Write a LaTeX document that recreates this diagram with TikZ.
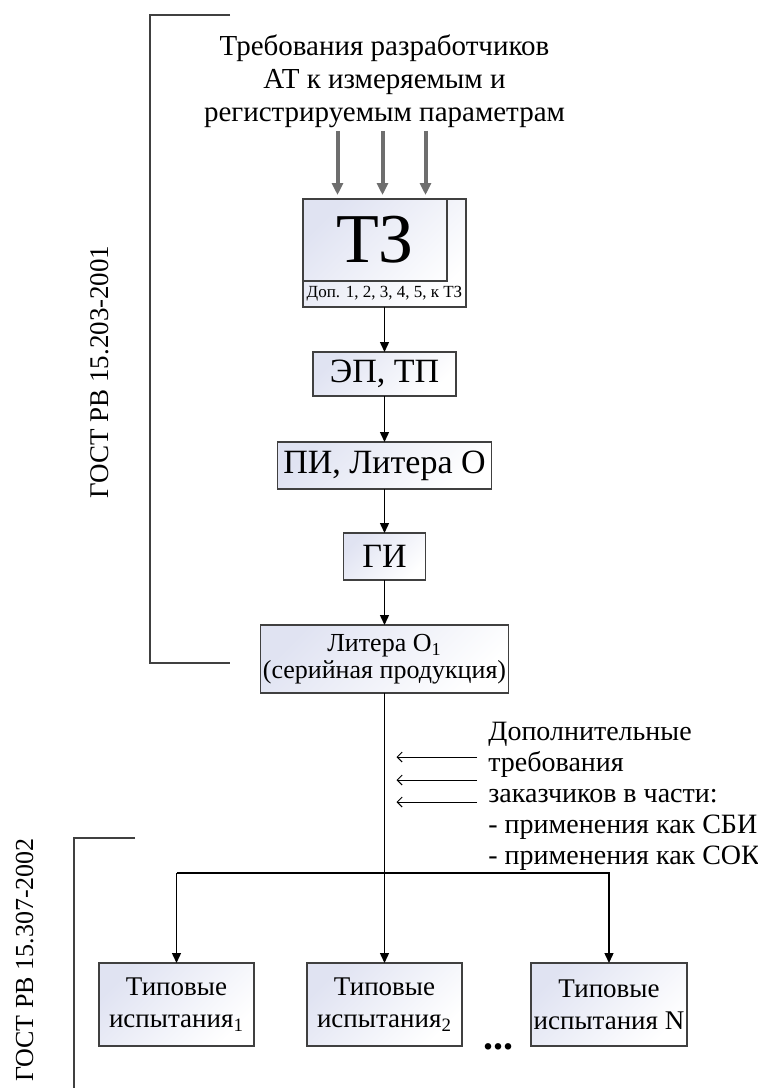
\documentclass[tikz,border=0pt]{standalone}
\usepackage{fontspec}
\setmainfont{Liberation Serif}
\usepackage{tikz}
\usetikzlibrary{arrows.meta}
\definecolor{boxtint}{RGB}{224,227,242}
\definecolor{boxline}{RGB}{64,64,64}
\definecolor{reqgray}{RGB}{110,110,110}
\tikzstyle{stage}=[draw=boxline, line width=0.7pt, inner sep=0, outer sep=0,
                   top color=boxtint, bottom color=white, shading angle=45, align=center]
\tikzstyle{bigstage}=[stage, font=\fontsize{17}{20}\selectfont]
\tikzstyle{smallstage}=[stage, font=\fontsize{13}{13.5}\selectfont]
\tikzstyle{teststage}=[stage, font=\fontsize{13.5}{16}\selectfont, minimum width=77.5pt, minimum height=41.5pt]
\tikzstyle{flow}=[line width=0.7pt, -{Triangle[length=5pt,width=4.5pt]}]
\tikzstyle{reqarrow}=[reqgray, line width=2pt, -{Triangle[length=6pt,width=5.5pt]}]
\tikzstyle{addarrow}=[line width=0.5pt, -{Straight Barb[length=2.5pt,width=5pt]}]
\tikzstyle{bracket}=[boxline, line width=0.6pt]
\tikzstyle{gost}=[rotate=90, anchor=base, inner sep=0, font=\fontsize{13.5}{15}\selectfont]
\tikzstyle{note}=[inner sep=0, font=\fontsize{14.5}{16.5}\selectfont]

\begin{document}
\begin{tikzpicture}[x=0.5pt, y=-0.5pt]
    \useasboundingbox (0,0) rectangle (757,1088);
    % standards and their brackets
    \draw[bracket] (230,15) -- (150,15) -- (150,663) -- (230,663);
    \draw[bracket] (135,838) -- (74,838) -- (74,1088);
    \node[gost] (gost203) at (108,372) {ГОСТ РВ 15.203-2001};
    \node[gost, font=\fontsize{13}{15}\selectfont] (gost307) at (33,960) {ГОСТ РВ 15.307-2002};

    \node[note, align=center, anchor=north] (devreq) at (384.5,34)
        {Требования разработчиков\\АТ к измеряемым и\\регистрируемым параметрам};

    % TZ with its supplements
    \node[stage, minimum width=81.5pt, minimum height=54pt] (tzbox) at (384.5,253) {};
    \node[draw=boxline, line width=0.7pt, inner sep=0, minimum width=72pt, minimum height=41pt,
          font=\fontsize{35}{40}\selectfont] (tzmain) at (375,240) {ТЗ};
    \node[inner sep=0, font=\fontsize{8.5}{10}\selectfont] (tzadd) at (384.5,294) {Доп. 1, 2, 3, 4, 5, к ТЗ};
    \foreach \dx in {-47,-2,41}
        \draw[reqarrow, shorten <=1.5pt, shorten >=2pt] ([xshift=\dx*0.5pt]devreq.south) -- ([xshift=\dx*0.5pt]tzbox.north);

    \node[bigstage, minimum width=71.5pt, minimum height=22pt] (ep) at (384.5,374) {ЭП, ТП};
    \node[bigstage, minimum width=107pt, minimum height=23.5pt] (pi) at (384.5,465.5) {ПИ, Литера О};
    \node[bigstage, minimum width=41pt, minimum height=23.5pt] (gi) at (384.5,556.5) {ГИ};
    \node[smallstage, minimum width=124pt, minimum height=34pt] (lit) at (384.5,659)
        {Литера О\textsubscript{1}\\(серийная продукция)};
    \draw[flow] (tzbox) -- (ep);
    \draw[flow] (ep) -- (pi);
    \draw[flow] (pi) -- (gi);
    \draw[flow] (gi) -- (lit);

    % customer requirements
    \foreach \y [count=\i] in {757,780,802} {
        \coordinate (add\i) at (477,\y);
        \draw[addarrow] (add\i) -- ([xshift=6pt]add\i -| lit.south);
    }
    \node[note, font=\fontsize{14}{15.5}\selectfont, align=left, anchor=north west] (custreq) at (488,722)
        {Дополнительные\\требования\\заказчиков в части:\\- применения как СБИ\\- применения как СОК};

    % type tests
    \node[teststage] (t1) at (176.5,1004.5) {Типовые\\испытания\textsubscript{1}};
    \node[teststage] (t2) at (384.5,1004.5) {Типовые\\испытания\textsubscript{2}};
    \node[teststage, minimum width=78pt] (t3) at (609,1004.5) {Типовые\\испытания N};
    \node[inner sep=0, font=\fontsize{20}{22}\selectfont\bfseries] (more) at (498,1047) {...};
    \coordinate (bus) at (384.5,873);
    \draw[flow] (lit) -- (t2);
    \draw[flow] (bus -| t1) -- (t1);
    \draw[flow] (bus -| t1) -- (bus -| t3) -- (t3);
\end{tikzpicture}
\end{document}
